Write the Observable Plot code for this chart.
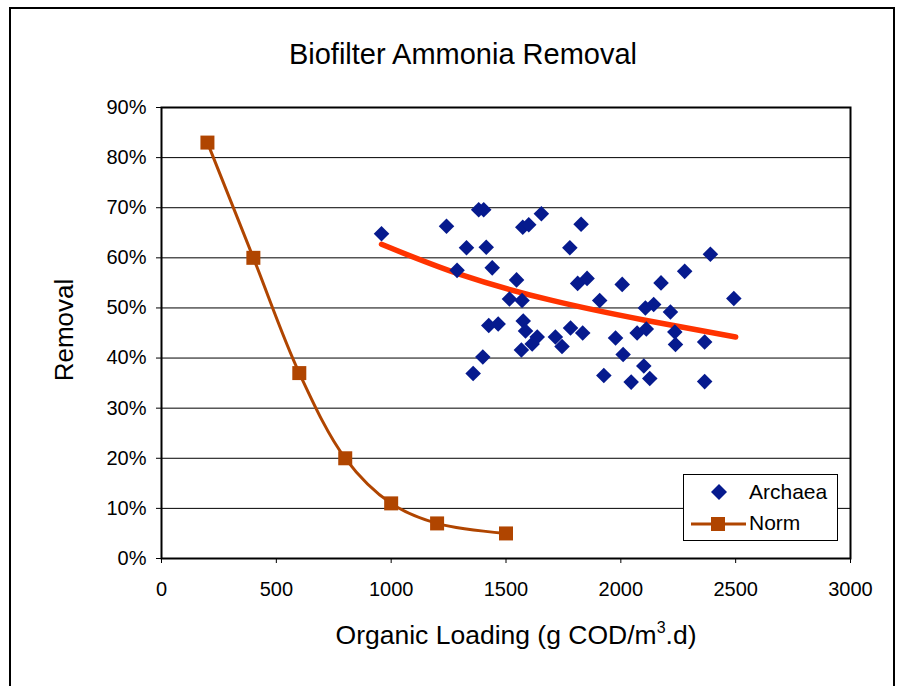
<!DOCTYPE html>
<html>
<head>
<meta charset="utf-8">
<script src="https://cdn.jsdelivr.net/npm/d3@7"></script>
<script src="https://cdn.jsdelivr.net/npm/@observablehq/plot@0.6"></script>
<style>
  html, body { margin: 0; padding: 0; background: #fff; }
  #wrap { position: relative; width: 906px; height: 686px; overflow: hidden; font-family: "Liberation Sans", Arial, sans-serif; }
  #border { position: absolute; left: 9px; top: 7px; width: 886px; height: 700px; border: 2px solid #000; box-sizing: border-box; }
  #chart { position: absolute; left: 0; top: 0; }
  .title { position: absolute; left: 0; width: 926px; top: 38px; text-align: center; font-size: 29px; color: #000; }
  .xlabel { position: absolute; left: 256px; width: 520px; top: 619px; text-align: center; font-size: 26.5px; }
  .ylabel { position: absolute; left: 64px; top: 330px; transform: translate(-50%, -50%) rotate(-90deg); font-size: 26px; white-space: nowrap; }
  #legend { position: absolute; left: 683px; top: 474px; width: 155px; height: 67px; border: 1px solid #000; background: #fff; box-sizing: border-box; }
  #legend svg { position: absolute; left: 0; top: 0; }
  #legend .lt { position: absolute; left: 65px; font-size: 21px; }
</style>
</head>
<body>
<div id="wrap">
  <div id="border"></div>
  <div id="chart"></div>
  <div class="title">Biofilter Ammonia Removal</div>
  <div class="ylabel">Removal</div>
  <div class="xlabel">Organic Loading (g COD/m<sup style="font-size:16px;vertical-align:11px">3</sup>.d)</div>
  <div id="legend">
    <svg width="155" height="67">
      <path d="M35,9 L43,17 L35,25 L27,17 Z" fill="#061a8e"></path>
      <line x1="7" y1="49" x2="62" y2="49" stroke="#b04500" stroke-width="3"></line>
      <rect x="27" y="42" width="14" height="14" fill="#b04500"></rect>
    </svg>
    <div class="lt" style="top:5px">Archaea</div>
    <div class="lt" style="top:36px">Norm</div>
  </div>
</div>
<script>
// Norm series
const normLoading = [200, 400, 600, 800, 1000, 1200, 1500];
const normRemoval = [0.83, 0.60, 0.37, 0.20, 0.11, 0.07, 0.05];

// Archaea scatter
const archaeaLoading = [958, 1241, 1381, 1403, 1328, 1414, 1287, 1440, 1546, 1515, 1570, 1573, 1599, 1654, 1425, 1466, 1575, 1585, 1636, 1614, 1567, 1399, 1357, 1827, 1778, 2390, 2278, 1812, 1853, 2006, 2175, 1908, 2492, 2107, 2143, 2216, 1781, 1834, 1715, 1744, 1977, 2071, 2111, 2235, 2238, 2365, 2010, 1926, 2100, 2126, 2045, 2365];
const archaeaRemoval = [64.8, 66.3, 69.6, 69.6, 62.0, 62.1, 57.5, 58.0, 55.6, 51.8, 51.5, 66.1, 66.6, 68.8, 46.5, 46.8, 47.4, 45.4, 44.2, 42.8, 41.6, 40.2, 36.9, 66.7, 62.0, 60.7, 57.3, 54.9, 55.9, 54.7, 55.0, 51.5, 51.9, 50.0, 50.7, 49.2, 46.0, 45.0, 44.2, 42.3, 44.0, 45.0, 45.8, 45.2, 42.7, 43.2, 40.7, 36.5, 38.4, 35.9, 35.2, 35.3].map(v => v / 100);

// Trend line
const trendLoading = [958, 1300, 1700, 2100, 2500];
const trendRemoval = [0.627, 0.567, 0.515, 0.476, 0.442];

// Axis ticks
const xTicks = [0, 500, 1000, 1500, 2000, 2500, 3000];
const yTicks = [0, 0.1, 0.2, 0.3, 0.4, 0.5, 0.6, 0.7, 0.8, 0.9];

const norm = normLoading.map((x, i) => ({x, y: normRemoval[i]}));
const archaea = archaeaLoading.map((x, i) => ({x, y: archaeaRemoval[i]}));
const trend = trendLoading.map((x, i) => ({x, y: trendRemoval[i]}));

const chart = Plot.plot({
  width: 906,
  height: 686,
  marginLeft: 161,
  marginRight: 56,
  marginTop: 107,
  marginBottom: 128,
  style: {fontFamily: "'Liberation Sans', Arial, sans-serif", fontSize: "20px", color: "#000", background: "transparent"},
  x: {domain: [0, 3000], ticks: xTicks, tickFormat: d3.format("d"), tickSize: 5, tickPadding: 18, label: null},
  y: {domain: [0, 0.9], ticks: yTicks, tickFormat: d3.format(".0%"), tickSize: 5, tickPadding: 10, label: null},
  marks: [
    Plot.ruleY(yTicks.filter(d => d > 0), {stroke: "#000", strokeWidth: 1}),
    Plot.frame({stroke: "#000", strokeWidth: 2}),
    Plot.line(trend, {x: "x", y: "y", stroke: "#ff3300", strokeWidth: 5.5, curve: "natural"}),
    Plot.dot(archaea, {x: "x", y: "y", symbol: "diamond2", r: 7, fill: "#061a8e", stroke: "none"}),
    Plot.line(norm, {x: "x", y: "y", stroke: "#b04500", strokeWidth: 3, curve: "catmull-rom"}),
    Plot.dot(norm, {x: "x", y: "y", symbol: "square", r: 7.9, fill: "#b04500", stroke: "none"})
  ]
});
document.getElementById("chart").appendChild(chart);
</script>
</body>
</html>
